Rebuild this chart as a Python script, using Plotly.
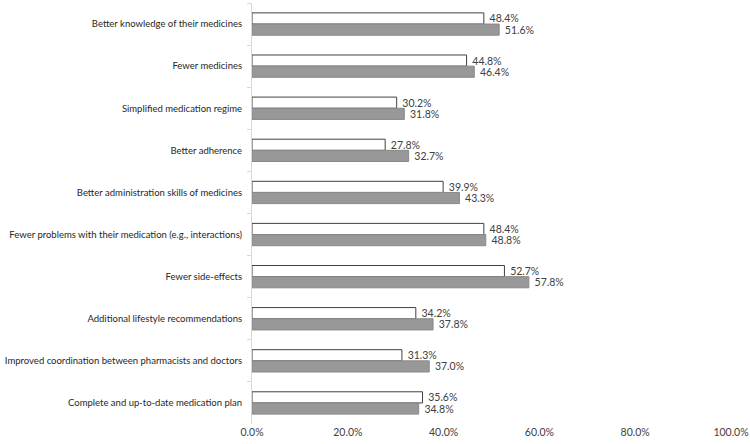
import plotly.graph_objects as go

categories = [
    "Better knowledge of their medicines",
    "Fewer medicines",
    "Simplified medication regime",
    "Better adherence",
    "Better administration skills of medicines",
    "Fewer problems with their medication (e.g., interactions)",
    "Fewer side-effects",
    "Additional lifestyle recommendations",
    "Improved coordination between pharmacists and doctors",
    "Complete and up-to-date medication plan",
]
series_white = [48.4, 44.8, 30.2, 27.8, 39.9, 48.4, 52.7, 34.2, 31.3, 35.6]
series_grey = [51.6, 46.4, 31.8, 32.7, 43.3, 48.8, 57.8, 37.8, 37.0, 34.8]
x_ticks = [0, 20, 40, 60, 80, 100]

font_family = "Lato, Carlito, Liberation Sans, sans-serif"

fig = go.Figure()
fig.add_trace(go.Bar(
    y=categories, x=series_white, orientation="h",
    marker=dict(color="white", line=dict(color="#404040", width=1)),
    text=[f"\u00a0{v:.1f}%" for v in series_white], textposition="outside",
    textfont=dict(size=10.5, color="#404040", family=font_family),
    constraintext="none",
    cliponaxis=False, showlegend=False,
))
fig.add_trace(go.Bar(
    y=categories, x=series_grey, orientation="h",
    marker=dict(color="#989898", line=dict(color="#888888", width=1)),
    text=[f"\u00a0{v:.1f}%" for v in series_grey], textposition="outside",
    textfont=dict(size=10.5, color="#404040", family=font_family),
    constraintext="none",
    cliponaxis=False, showlegend=False,
))

fig.update_layout(
    width=750, height=444,
    margin=dict(l=252, r=19, t=3, b=20),
    paper_bgcolor="white", plot_bgcolor="white",
    barmode="group", bargap=0.47, bargroupgap=0,
    font=dict(family=font_family, size=9.5, color="#404040"),
    xaxis=dict(
        range=[0, 100], tickvals=x_ticks,
        ticktext=[f"{v:.1f}%" for v in x_ticks],
        showgrid=False, zeroline=False, showline=False,
        tickfont=dict(size=10.5, color="#404040"),
        automargin=False, fixedrange=True,
    ),
    yaxis=dict(
        autorange="reversed", showgrid=False, zeroline=False,
        showline=True, linecolor="#d9d9d9", linewidth=1,
        ticks="outside", tickson="boundaries", ticklen=4, tickcolor="#d9d9d9",
        tickfont=dict(size=9.5, color="#262626"),
        ticklabelstandoff=7, automargin=False, fixedrange=True,
    ),
)

fig.write_html(
    "out.html",
    config={"displayModeBar": False, "staticPlot": True},
    post_script="document.body.style.margin='0';document.body.style.padding='0';",
)
